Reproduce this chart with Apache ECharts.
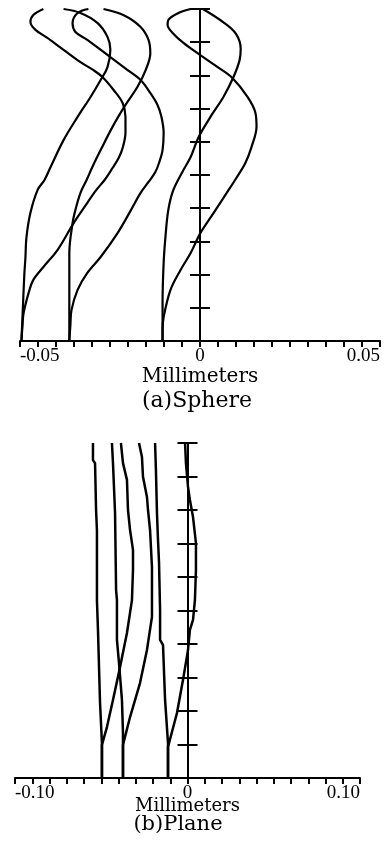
<!DOCTYPE html>
<html><head><meta charset="utf-8">
<script src="https://cdn.jsdelivr.net/npm/echarts@6/dist/echarts.min.js"></script>
<style>html,body{margin:0;padding:0;background:#fff}#c{width:388px;height:864px}</style>
</head><body><div id="c"></div>
<script>
// ---- tick labels ----
const sphereTickValues = [-0.05, 0, 0.05];
const sphereTickLabels = ['-0.05', '0', '0.05'];
const planeTickValues = [-0.1, 0, 0.1];
const planeTickLabels = ['-0.10', '0', '0.10'];
const axisName = 'Millimeters';
const captions = ['(a)Sphere', '(b)Plane'];

// ---- (a) Sphere: [x (mm), relative height] ----
const sphereS1 = [[-0.0496,0],[-0.0492,0.1],[-0.0488,0.2],[-0.0485,0.25],[-0.0482,0.313],[-0.0471,0.386],[-0.0451,0.455],[-0.0432,0.485],[-0.0415,0.524],[-0.0379,0.605],[-0.0340,0.675],[-0.0304,0.735],[-0.0276,0.786],[-0.0257,0.825],[-0.0249,0.877],[-0.0257,0.916],[-0.0285,0.958],[-0.0332,0.988],[-0.0379,1.0]];
const sphereT1 = [[-0.0496,0],[-0.0493,0.048],[-0.0490,0.084],[-0.0476,0.145],[-0.0463,0.184],[-0.0435,0.223],[-0.0396,0.274],[-0.0351,0.355],[-0.0313,0.416],[-0.0288,0.455],[-0.0265,0.485],[-0.0243,0.521],[-0.0226,0.551],[-0.0215,0.581],[-0.0207,0.627],[-0.0207,0.675],[-0.0215,0.717],[-0.0240,0.756],[-0.0271,0.795],[-0.0296,0.816],[-0.0332,0.840],[-0.0379,0.877],[-0.0424,0.913],[-0.0457,0.937],[-0.0471,0.961],[-0.0463,0.982],[-0.0435,1.0]];
const sphereS2 = [[-0.0363,0],[-0.0363,0.123],[-0.0363,0.265],[-0.0354,0.355],[-0.0346,0.395],[-0.0332,0.446],[-0.0315,0.485],[-0.0299,0.524],[-0.0276,0.575],[-0.0243,0.645],[-0.0207,0.711],[-0.0174,0.765],[-0.0151,0.816],[-0.0138,0.867],[-0.0143,0.907],[-0.0165,0.946],[-0.0213,0.982],[-0.0268,1.0]];
const sphereT2 = [[-0.0363,0],[-0.0360,0.048],[-0.0357,0.093],[-0.0340,0.154],[-0.0313,0.205],[-0.0276,0.253],[-0.0229,0.325],[-0.0193,0.392],[-0.0165,0.446],[-0.0143,0.479],[-0.0124,0.509],[-0.0113,0.539],[-0.0104,0.575],[-0.0101,0.627],[-0.0107,0.675],[-0.0118,0.711],[-0.0138,0.747],[-0.0165,0.786],[-0.0201,0.816],[-0.0249,0.855],[-0.0313,0.907],[-0.0346,0.931],[-0.0354,0.958],[-0.0340,0.988],[-0.0310,1.0]];
const sphereS3 = [[-0.0104,0],[-0.0104,0.114],[-0.0101,0.235],[-0.0096,0.313],[-0.0088,0.395],[-0.0074,0.455],[-0.0049,0.509],[-0.0026,0.554],[-0.0004,0.614],[0.0029,0.675],[0.0065,0.735],[0.0093,0.795],[0.0110,0.846],[0.0113,0.880],[0.0100,0.925],[0.0065,0.960],[0.0008,1.0]];
const sphereT3 = [[-0.0104,0],[-0.0104,0.033],[-0.0101,0.072],[-0.0082,0.154],[-0.0054,0.214],[-0.0026,0.265],[0.0001,0.325],[0.0038,0.386],[0.0076,0.449],[0.0101,0.491],[0.0126,0.536],[0.0143,0.584],[0.0157,0.645],[0.0154,0.687],[0.0132,0.735],[0.0090,0.792],[0.0049,0.825],[0.0001,0.861],[-0.0046,0.898],[-0.0076,0.928],[-0.0090,0.952],[-0.0088,0.967],[-0.0060,0.988],[-0.0026,1.0]];

// ---- (b) Plane ----
const planeS1 = [[-0.0496,0],[-0.0496,0.104],[-0.0507,0.224],[-0.0519,0.442],[-0.0525,0.531],[-0.0525,0.740],[-0.0530,0.800],[-0.0536,0.940],[-0.0548,0.949],[-0.0548,1.0]];
const planeT1 = [[-0.0496,0],[-0.0496,0.099],[-0.0467,0.152],[-0.0432,0.233],[-0.0391,0.331],[-0.0351,0.433],[-0.0322,0.531],[-0.0316,0.621],[-0.0316,0.681],[-0.0333,0.740],[-0.0345,0.800],[-0.0351,0.890],[-0.0374,0.940],[-0.0386,1.0]];
const planeS2 = [[-0.0374,0],[-0.0374,0.134],[-0.0380,0.233],[-0.0397,0.343],[-0.0409,0.412],[-0.0409,0.531],[-0.0414,0.561],[-0.0420,0.791],[-0.0432,0.940],[-0.0438,1.0]];
const planeT2 = [[-0.0374,0],[-0.0374,0.099],[-0.0333,0.182],[-0.0275,0.284],[-0.0235,0.382],[-0.0206,0.481],[-0.0206,0.630],[-0.0217,0.740],[-0.0229,0.800],[-0.0235,0.839],[-0.0258,0.899],[-0.0264,0.958],[-0.0281,1.0]];
const planeS3 = [[-0.0113,0],[-0.0113,0.104],[-0.0130,0.233],[-0.0142,0.397],[-0.0159,0.412],[-0.0159,0.501],[-0.0165,0.642],[-0.0171,0.710],[-0.0177,0.791],[-0.0183,0.919],[-0.0188,1.0]];
const planeT3 = [[-0.0113,0],[-0.0113,0.093],[-0.0061,0.194],[-0.0026,0.293],[0.0003,0.382],[0.0014,0.442],[0.0032,0.472],[0.0043,0.531],[0.0049,0.621],[0.0049,0.701],[0.0032,0.779],[0.0014,0.830],[0.0003,0.869],[-0.0009,0.940],[-0.0014,1.0]];

const FONT = '"DejaVu Serif", "Liberation Serif", serif';
const TICK_FONT = '"Liberation Serif", "Times New Roman", serif';

function labelFmt(vals, labels) {
  return function (v) {
    for (let i = 0; i < vals.length; i++) if (Math.abs(vals[i] - v) < 1e-9) return labels[i];
    return '';
  };
}
function xAxisOpt(gridIndex, min, max, interval, vals, labels, nameSize, nameGap) {
  return {
    type: 'value', gridIndex, min, max, interval, position: 'bottom',
    axisLine: { show: true, onZero: false, lineStyle: { color: '#000', width: 2 } },
    axisTick: { show: true, length: 6, lineStyle: { color: '#000', width: 2 } },
    minorTick: { show: true, splitNumber: 10, length: 6, lineStyle: { color: '#000', width: 2 } },
    splitLine: { show: false }, minorSplitLine: { show: false },
    axisLabel: { show: true, margin: 6, color: '#000', fontFamily: TICK_FONT, fontSize: 19,
      alignMinLabel: 'left', alignMaxLabel: 'right', formatter: labelFmt(vals, labels) },
    name: axisName, nameLocation: 'middle', nameGap, nameMoveOverlap: false,
    nameTextStyle: { color: '#000', fontFamily: FONT, fontSize: nameSize }
  };
}
function yAxisOpt(gridIndex, pos, zeroIdx) {
  return {
    type: 'value', gridIndex, min: 0, max: 1, interval: 0.1, position: pos,
    axisLine: { show: true, onZero: true, onZeroAxisIndex: zeroIdx, lineStyle: { color: '#000', width: 2 } },
    axisTick: { show: true, length: 10, lineStyle: { color: '#000', width: 2 } },
    axisLabel: { show: false }, splitLine: { show: false }
  };
}
function line(data, xi, yi, w, smooth) {
  return { type: 'line', xAxisIndex: xi, yAxisIndex: yi, data, symbol: 'none', showSymbol: false,
    smooth, clip: false, silent: true, lineStyle: { color: '#000', width: w } };
}

const chart = echarts.init(document.getElementById('c'), null, { renderer: 'canvas' });
chart.setOption({
  animation: false,
  backgroundColor: '#fff',
  grid: [
    { left: 20, top: 9, width: 360, height: 332, outerBoundsMode: 'none', containLabel: false },
    { left: 15, top: 443, width: 345, height: 335, outerBoundsMode: 'none', containLabel: false }
  ],
  xAxis: [
    xAxisOpt(0, -0.05, 0.05, 0.05, sphereTickValues, sphereTickLabels, 20, 26),
    xAxisOpt(1, -0.1, 0.1, 0.1, planeTickValues, planeTickLabels, 18, 19)
  ],
  yAxis: [
    yAxisOpt(0, 'left', 0), yAxisOpt(0, 'right', 0),
    yAxisOpt(1, 'left', 1), yAxisOpt(1, 'right', 1)
  ],
  series: [
    line(sphereS1, 0, 0, 2.2, 0.35), line(sphereT1, 0, 0, 2.2, 0.35),
    line(sphereS2, 0, 0, 2.2, 0.35), line(sphereT2, 0, 0, 2.2, 0.35),
    line(sphereS3, 0, 0, 2.2, 0.35), line(sphereT3, 0, 0, 2.2, 0.35),
    line(planeS1, 1, 2, 2.5, false), line(planeT1, 1, 2, 2.5, false),
    line(planeS2, 1, 2, 2.5, false), line(planeT2, 1, 2, 2.5, false),
    line(planeS3, 1, 2, 2.5, false), line(planeT3, 1, 2, 2.5, false)
  ],
  graphic: [
    { type: 'text', x: 197, y: 401, style: { text: captions[0], fontFamily: FONT, fontSize: 22, fill: '#000', align: 'center', verticalAlign: 'middle' } },
    { type: 'text', x: 178, y: 825, style: { text: captions[1], fontFamily: FONT, fontSize: 21, fill: '#000', align: 'center', verticalAlign: 'middle' } }
  ]
});
</script></body></html>
